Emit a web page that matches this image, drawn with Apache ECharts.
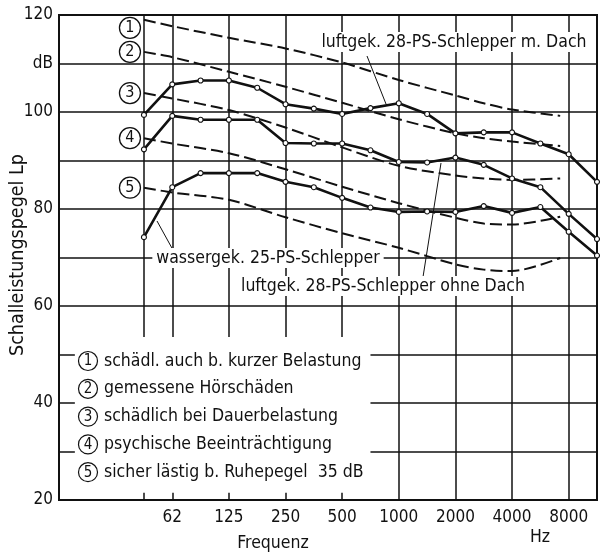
<!DOCTYPE html>
<html><head><meta charset="utf-8">
<script src="https://cdn.jsdelivr.net/npm/echarts@6/dist/echarts.min.js"></script>
<style>html,body{margin:0;padding:0;background:#fff}#c{width:601px;height:556px}</style>
</head><body><div id="c"></div><script>
// x values are octave positions: 0 = 62 Hz, 1 = 125 Hz, ... 7 = 8000 Hz
const freqLabels = ['62','125','250','500','1000','2000','4000','8000'];
const yTickLabels = {120:'120',110:'dB',100:'100',80:'80',60:'60',40:'40',20:'20'};

// measured curves (half-octave steps)
const measX = [-0.5,0,0.5,1,1.5,2,2.5,3,3.5,4,4.5,5,5.5,6,6.5,7,7.5];
const luftMitDach  = [99.4,105.7,106.5,106.5,105.0,101.6,100.7,99.6,100.8,101.8,99.6,95.6,95.8,95.8,93.5,91.3,85.6];
const luftOhneDach = [92.3,99.2,98.4,98.4,98.4,93.6,93.5,93.5,92.1,89.7,89.6,90.6,89.1,86.3,84.5,79.0,73.8];
const wasser       = [74.2,84.5,87.4,87.4,87.4,85.6,84.5,82.3,80.3,79.4,79.5,79.4,80.6,79.2,80.4,75.3,70.4];

// limit curves (dashed)
const limX  = [-0.5,0,1,2,3,4,5,5.5,6,6.85];
const lim1 = [119.0,117.7,115.3,113.1,110.2,106.6,103.4,101.8,100.5,99.2];
const lim2 = [112.4,111.3,108.3,105.2,101.9,98.5,95.6,94.6,93.9,93.0];
const lim3 = [103.9,102.8,100.4,96.8,92.7,88.9,86.9,86.3,86.0,86.3];
const lim4 = [94.6,93.5,91.5,88.2,84.6,81.2,78.2,77.0,76.8,78.4];
const lim5 = [84.4,83.4,81.9,78.3,75.0,72.0,68.6,67.5,67.2,69.9];
const limNames = ['1','2','3','4','5'];

const legendTexts = [
  'schädl. auch b. kurzer Belastung',
  'gemessene Hörschäden',
  'schädlich bei Dauerbelastung',
  'psychische Beeinträchtigung',
  'sicher lästig b. Ruhepegel  35 dB'
];
const curveNames = ['luftgek. 28-PS-Schlepper m. Dach','wassergek. 25-PS-Schlepper','luftgek. 28-PS-Schlepper ohne Dach'];
const yTitle = 'Schalleistungspegel Lp';
const xTitle = 'Frequenz';
const xUnit = 'Hz';

// grid structure
const vFull = [4,5,6,7];
const vPart = [-0.5,0,1,2,3];
const hFull = [60,70,80,90,100,110];
const hPart = [30,40,50];

const FONT = '"Liberation Sans Narrow","DejaVu Sans Condensed","Roboto Condensed","Open Sans",sans-serif';
const INK = '#111';

const zip = (xs, ys) => xs.map((x,i)=>[x, ys[i]]);
const seg = (a,b)=>[{coord:a},{coord:b}];

const gridSegs = [];
vFull.forEach(x=>gridSegs.push(seg([x,20],[x,120])));
vPart.forEach(x=>{gridSegs.push(seg([x,53.6],[x,120])); gridSegs.push(seg([x,20],[x,21.5]));});
hFull.forEach(y=>gridSegs.push(seg([-2,y],[7.5,y])));
hPart.forEach(y=>{gridSegs.push(seg([-2,y],[-1.72,y])); gridSegs.push(seg([3.5,y],[7.5,y]));});

const solid = (name, vals) => ({
  type:'line', name, data: zip(measX, vals), z:5,
  lineStyle:{width:2.6,color:INK}, symbol:'circle', symbolSize:5,
  itemStyle:{color:'#fff',borderColor:INK,borderWidth:1.1}, silent:true, animation:false
});
const dashed = (vals, idx) => ({
  type:'line', data: zip(limX, vals), z:4, smooth:0.3, symbol:'none',
  lineStyle:{width:2,color:INK,type:[12,5]}, silent:true, animation:false,
  markPoint:{
    symbol:'circle', symbolSize:21, symbolOffset:[-14, idx===0?8:0],
    itemStyle:{color:'#fff',borderColor:INK,borderWidth:1.3},
    label:{show:true,color:INK,fontSize:16,fontFamily:FONT,formatter:limNames[idx]},
    data:[{coord:[limX[0], vals[0]]}], animation:false
  }
});

const series = [
  {type:'line', data:[[7.5,20]], symbol:'none', lineStyle:{opacity:0}, z:1, silent:true, animation:false,
   markLine:{silent:true, symbol:'none', label:{show:false}, lineStyle:{color:INK,width:1.5,type:'solid'}, data:gridSegs, animation:false}},
  dashed(lim1,0), dashed(lim2,1), dashed(lim3,2), dashed(lim4,3), dashed(lim5,4),
  solid(curveNames[0], luftMitDach), solid(curveNames[2], luftOhneDach), solid(curveNames[1], wasser)
];

const LF = '17.5px '+FONT;
const graphic = [];
const lblStyle = (t,x,y)=>({type:'text', z:50, style:{text:t, x, y, font:LF, fill:INK,
  align:'center', verticalAlign:'middle', backgroundColor:'#fff', padding:[1,4,1,4]}});
graphic.push(lblStyle(curveNames[0], 454, 42));
graphic.push(lblStyle(curveNames[1], 268, 258));
graphic.push(lblStyle(curveNames[2], 383, 286));
// leader lines
[[367,56,386,104],[157,221,173,250],[423,277,441,163]].forEach(p=>graphic.push({type:'line',z:49,shape:{x1:p[0],y1:p[1],x2:p[2],y2:p[3]},style:{stroke:INK,lineWidth:1}}));
// legend
legendTexts.forEach((t,i)=>{
  const y = 361 + i*27.8;
  graphic.push({type:'circle', z:50, shape:{cx:88, cy:y, r:9.5}, style:{fill:'#fff', stroke:INK, lineWidth:1.2}});
  graphic.push({type:'text', z:51, style:{text:limNames[i], x:88, y:y+0.5, font:'15px '+FONT, fill:INK, align:'center', verticalAlign:'middle'}});
  graphic.push({type:'text', z:51, style:{text:t, x:104, y:y, font:LF, fill:INK, align:'left', verticalAlign:'middle'}});
});
graphic.push({type:'text', z:50, style:{text:xTitle, x:273, y:543, font:LF, fill:INK, align:'center', verticalAlign:'middle'}});
graphic.push({type:'text', z:50, style:{text:xUnit, x:540, y:537, font:LF, fill:INK, align:'center', verticalAlign:'middle'}});
graphic.push({type:'text', z:50, x:18, y:255, rotation:Math.PI/2, style:{text:yTitle, x:0, y:0, font:'19.5px '+FONT, fill:INK, align:'center', verticalAlign:'middle'}});

const chart = echarts.init(document.getElementById('c'), null, {renderer:'canvas'});
chart.setOption({
  backgroundColor:'#fff', animation:false,
  textStyle:{fontFamily:FONT},
  grid:{left:59, right:4, top:15, bottom:56, containLabel:false, outerBoundsMode:'none',
    show:true, borderColor:INK, borderWidth:2, backgroundColor:'transparent'},
  xAxis:{type:'value', min:-2, max:7.5, interval:1,
    axisLine:{show:false}, axisTick:{show:false}, splitLine:{show:false},
    axisLabel:{margin:9, fontSize:17, color:INK, fontFamily:FONT, showMaxLabel:false, showMinLabel:false,
      formatter:v=> (v>=0 && v<=7 && Number.isInteger(v)) ? freqLabels[v] : ''}},
  yAxis:{type:'value', min:20, max:120, interval:10,
    axisLine:{show:false}, axisTick:{show:false}, splitLine:{show:false},
    axisLabel:{margin:6, fontSize:17, color:INK, fontFamily:FONT, formatter:v=>yTickLabels[v]||''}},
  graphic, series
});
</script></body></html>
